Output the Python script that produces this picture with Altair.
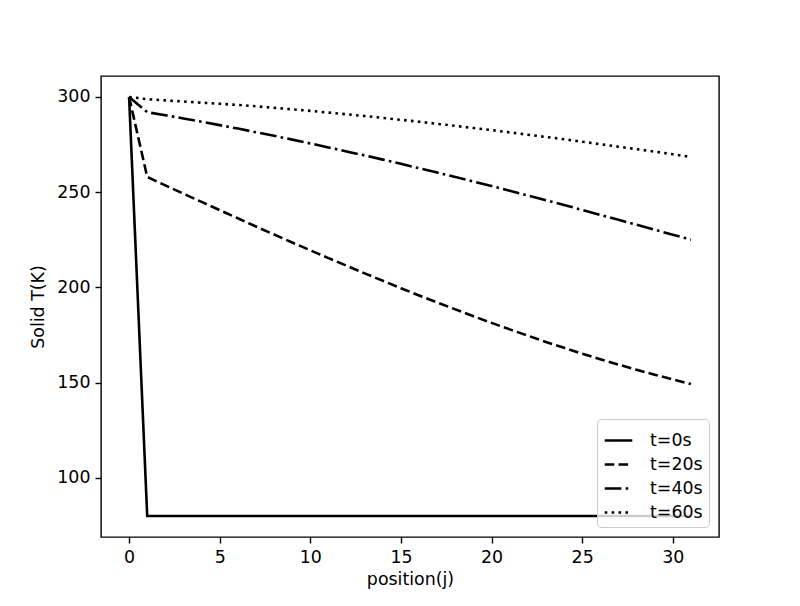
import altair as alt
import pandas as pd

positions = list(range(32))
labels = ["t=0s", "t=20s", "t=40s", "t=60s"]

t0 = [300] + [80] * 31
t20 = [300, 258.0, 253.6, 249.2, 244.9, 240.6, 236.3, 232.0, 227.8, 223.6, 219.5,
       215.4, 211.4, 207.4, 203.5, 199.6, 195.8, 192.1, 188.5, 184.9, 181.4,
       178.0, 174.7, 171.4, 168.3, 165.2, 162.3, 159.5, 156.8, 154.2, 151.7, 149.3]
t40 = [300, 292.0, 290.4, 288.7, 287.0, 285.2, 283.4, 281.5, 279.6, 277.6, 275.6,
       273.5, 271.4, 269.3, 267.1, 264.9, 262.6, 260.3, 258.0, 255.6, 253.2,
       250.8, 248.3, 245.8, 243.3, 240.7, 238.1, 235.5, 232.9, 230.3, 227.7, 225.1]
t60 = [300, 298.8, 298.2, 297.6, 297.0, 296.4, 295.8, 295.1, 294.3, 293.5, 292.7,
       291.8, 290.9, 290.0, 289.0, 288.0, 287.0, 285.9, 284.8, 283.7, 282.6,
       281.4, 280.2, 279.0, 277.8, 276.5, 275.2, 273.9, 272.6, 271.3, 269.9, 268.5]

x_ticks = [0, 5, 10, 15, 20, 25, 30]
y_ticks = [100, 150, 200, 250, 300]

rows = []
for lab, series in zip(labels, [t0, t20, t40, t60]):
    for j, v in zip(positions, series):
        rows.append({"j": j, "T": v, "series": lab})
df = pd.DataFrame(rows)

FONT = "DejaVu Sans"
FS = 17.4

chart = alt.Chart(df).mark_line(color="black", strokeWidth=2.6, strokeCap="butt").encode(
    x=alt.X("j:Q", title="position(j)",
            scale=alt.Scale(domain=[-1.55, 32.55], nice=False, zero=False),
            axis=alt.Axis(values=x_ticks, titlePadding=5)),
    y=alt.Y("T:Q", title="Solid T(K)",
            scale=alt.Scale(domain=[69, 311], nice=False, zero=False),
            axis=alt.Axis(values=y_ticks, titlePadding=9)),
    strokeDash=alt.StrokeDash(
        "series:N",
        scale=alt.Scale(domain=labels,
                        range=[[1, 0], [9.6, 4.2], [16.7, 4.2, 2.6, 4.2], [2.6, 4.3]]),
        legend=alt.Legend(title=None, orient="none", legendX=496, legendY=343,
                          symbolType="stroke", symbolSize=760,
                          symbolStrokeWidth=2.6, symbolStrokeColor="black",
                          labelFont=FONT, labelFontSize=FS, labelColor="black",
                          labelOffset=16, rowPadding=0, padding=6,
                          fillColor="rgba(255,255,255,0.8)", strokeColor="#cccccc",
                          cornerRadius=4),
    ),
    order=alt.Order("j:Q"),
).properties(
    width=618, height=461,
    autosize=alt.AutoSizeParams(type="none"),
    padding={"left": 93, "top": 68, "right": 60, "bottom": 60},
).configure_view(
    stroke="black", strokeWidth=1.4
).configure_axis(
    domain=False, grid=False,
    tickColor="black", tickSize=6, tickWidth=1.4,
    labelFont=FONT, labelFontSize=FS, labelColor="black", labelPadding=5,
    titleFont=FONT, titleFontSize=FS, titleFontWeight="normal", titleColor="black",
)

chart.save("out.html", embed_options={"renderer": "svg", "actions": False})
